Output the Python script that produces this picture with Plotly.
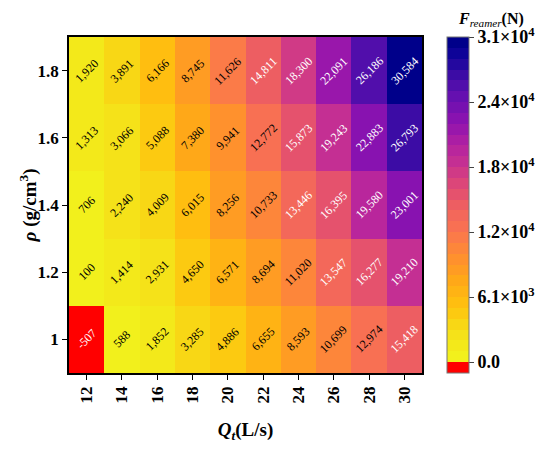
import plotly.graph_objects as go
from plotly.colors import hex_to_rgb

# Q_t (L/s) and rho (g/cm3)
flow = [12, 14, 16, 18, 20, 22, 24, 26, 28, 30]
density = [1.0, 1.2, 1.4, 1.6, 1.8]

# F_reamer (N), one row per density
f_rho_10 = [-507, 588, 1852, 3285, 4886, 6655, 8593, 10699, 12974, 15418]
f_rho_12 = [100, 1414, 2931, 4650, 6571, 8694, 11020, 13547, 16277, 19210]
f_rho_14 = [706, 2240, 4009, 6015, 8256, 10733, 13446, 16395, 19580, 23001]
f_rho_16 = [1313, 3066, 5088, 7380, 9941, 12772, 15873, 19243, 22883, 26793]
f_rho_18 = [1920, 3891, 6166, 8745, 11626, 14811, 18300, 22091, 26186, 30584]
force = [f_rho_10, f_rho_12, f_rho_14, f_rho_16, f_rho_18]

cbar_ticks = [0, 6170, 12340, 18510, 24680, 30850]
cbar_labels = ["0.0", "6.1×10<sup>3</sup>", "1.2×10<sup>4</sup>",
               "1.8×10<sup>4</sup>", "2.4×10<sup>4</sup>", "3.1×10<sup>4</sup>"]

FONT = "Liberation Serif"

# stepped colour map: one red band below zero, then yellow -> navy
anchors = [
    (0.00, "#f2f01c"), (0.08, "#f5e018"), (0.16, "#ffc20e"),
    (0.24, "#ffa818"), (0.32, "#ff8e30"), (0.40, "#fa7450"),
    (0.47, "#f0625e"), (0.54, "#e04a74"), (0.61, "#c83290"),
    (0.68, "#b020a2"), (0.75, "#8c12b0"), (0.83, "#6410b0"),
    (0.90, "#3a0ca4"), (0.96, "#10049a"), (1.00, "#00008a"),
]


def interp(t):
    for (t0, c0), (t1, c1) in zip(anchors[:-1], anchors[1:]):
        if t <= t1:
            a, b = hex_to_rgb(c0), hex_to_rgb(c1)
            f = (t - t0) / (t1 - t0) if t1 > t0 else 0
            r, g, bl = [round(a[k] + (b[k] - a[k]) * f) for k in range(3)]
            return f"rgb({r},{g},{bl})"
    return anchors[-1][1]


n_bands = 30
zmax = cbar_ticks[-1]
step = zmax / n_bands
zmin = -step
total = n_bands + 1
cscale = [[0, "#ff0000"], [1 / total, "#ff0000"]]
for i in range(n_bands):
    c = interp(i / (n_bands - 1))
    cscale.append([(i + 1) / total, c])
    cscale.append([(i + 2) / total, c])

fig = go.Figure(go.Heatmap(
    x=flow, y=density, z=force,
    zmin=zmin, zmax=zmax, colorscale=cscale,
    xgap=0, ygap=0,
    colorbar=dict(
        x=1.043, xanchor="left", y=0.5, yanchor="middle",
        len=1.0, ypad=0, thickness=22, outlinewidth=1, outlinecolor="#777",
        tickvals=cbar_ticks, ticktext=cbar_labels,
        ticks="outside", ticklen=5, tickcolor="#444",
        tickfont=dict(family=FONT, size=18, color="black", weight="bold"),
    ),
))

for yi, row in zip(density, force):
    for xi, v in zip(flow, row):
        fig.add_annotation(
            x=xi, y=yi, text=f"{v:,}", showarrow=False, textangle=-45,
            font=dict(family=FONT, size=12,
                      color="white" if (v > 13000 or v < 0) else "black"),
        )

# colorbar title
fig.add_annotation(
    xref="paper", yref="paper", x=1.1, y=1.083, xanchor="left", yanchor="top",
    text="<b><i>F</i></b><sub><i>reamer</i></sub><b>(N)</b>", showarrow=False,
    borderpad=0, font=dict(family=FONT, size=16, color="black"),
)
# y axis title
fig.add_annotation(
    xref="paper", yref="paper", x=-0.115, y=0.5, xanchor="center", yanchor="middle",
    text="<b><i>ρ</i> (g/cm<sup>3</sup>)</b>", showarrow=False, textangle=-90,
    font=dict(family=FONT, size=19, color="black"),
)

axis_common = dict(
    showline=True, linecolor="black", linewidth=1.5, mirror=True,
    ticks="outside", ticklen=5, tickcolor="black", showgrid=False, zeroline=False,
    tickfont=dict(family=FONT, size=17, color="black", weight="bold"),
    automargin=False,
)

fig.update_xaxes(
    range=[11, 31], tickvals=flow, tickangle=-90,
    title=dict(text="<b><i>Q<sub>t</sub></i>(L/s)</b>", standoff=20,
               font=dict(family=FONT, size=19, color="black")),
    **axis_common,
)
fig.update_yaxes(
    range=[0.9, 1.9], tickvals=density, ticktext=["1", "1.2", "1.4", "1.6", "1.8"],
    **axis_common,
)

fig.update_layout(
    width=550, height=450,
    margin=dict(l=61, r=136, t=29, b=85, autoexpand=False),
    plot_bgcolor="white", paper_bgcolor="white",
    font=dict(family=FONT, color="black"),
)

fig.write_html("out.html")
